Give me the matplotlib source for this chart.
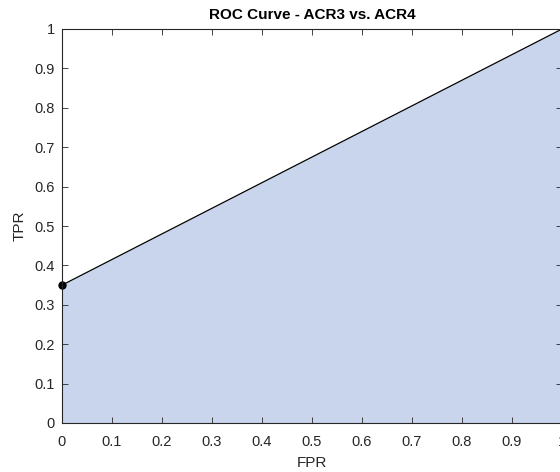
import matplotlib.pyplot as plt

fpr = [0, 0, 1]
tpr = [0, 0.35, 1]
marker_fpr = [0]
marker_tpr = [0.35]
ticks = [0, 0.1, 0.2, 0.3, 0.4, 0.5, 0.6, 0.7, 0.8, 0.9, 1]
tick_labels = ['0', '0.1', '0.2', '0.3', '0.4', '0.5', '0.6', '0.7', '0.8', '0.9', '1']

plt.rcParams['font.family'] = ['Liberation Sans', 'DejaVu Sans']
fig = plt.figure(figsize=(5.6, 4.72), dpi=100)
ax = fig.add_axes([62 / 560, 49 / 472, 500 / 560, 394 / 472])

ax.fill_between(fpr, tpr, 0, color='#c8d5ed', linewidth=0)
ax.plot(fpr, tpr, color='black', linewidth=0.9)
ax.plot(marker_fpr, marker_tpr, 'o', color='black', markersize=5, clip_on=False)

ax.set_xlim(0, 1)
ax.set_ylim(0, 1)
ax.set_xticks(ticks)
ax.set_xticklabels(tick_labels)
ax.set_yticks(ticks)
ax.set_yticklabels(tick_labels)
ax.tick_params(direction='in', top=True, right=True, length=4, width=0.6,
               labelsize=10.5, colors='#262626', pad=5)
ax.tick_params(axis='x', pad=9)
for s in ax.spines.values():
    s.set_color('#262626')
    s.set_linewidth(0.8)

ax.set_xlabel('FPR', fontsize=11, color='#262626', labelpad=5)
ax.set_ylabel('TPR', fontsize=11, color='#262626', labelpad=6)
ax.set_title('ROC Curve - ACR3 vs. ACR4', fontsize=11, fontweight='bold', pad=7)

fig.savefig('out.png', dpi=100)
